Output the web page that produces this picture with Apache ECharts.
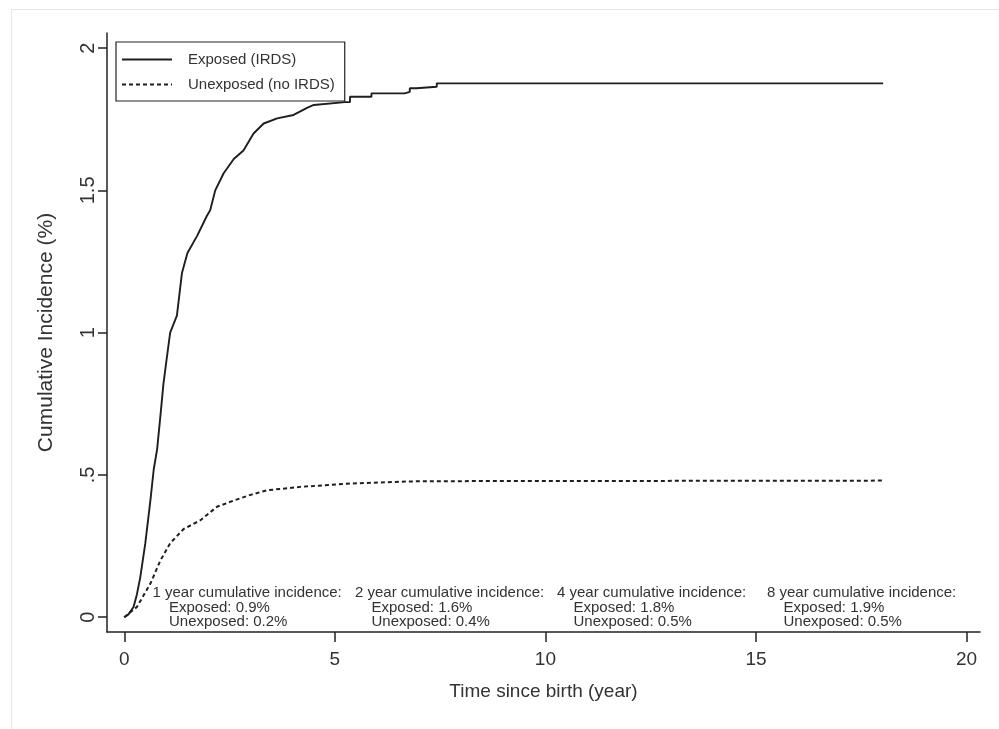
<!DOCTYPE html>
<html>
<head>
<meta charset="utf-8">
<script src="https://cdn.jsdelivr.net/npm/echarts@6/dist/echarts.min.js"></script>
<style>
html,body{margin:0;padding:0;background:#fff;}
#chart{width:999px;height:729px;}
</style>
</head>
<body>
<div id="chart"></div>
<script>
// ---- data ----
var seriesNames = ['Exposed (IRDS)', 'Unexposed (no IRDS)'];
var exposedTime = [0,0.1,0.22,0.3,0.38,0.5,0.62,0.7,0.78,0.86,0.93,1.0,1.09,1.25,1.37,1.5,1.73,1.96,2.04,2.16,2.36,2.6,2.83,3.07,3.31,3.63,4.02,4.34,4.5,5.24,5.36,5.36,5.87,5.87,6.66,6.66,6.78,6.78,6.94,6.94,7.42,7.42,18.02];
var exposedValue = [0,0.01,0.036,0.08,0.14,0.26,0.41,0.52,0.59,0.71,0.82,0.9,1.0,1.06,1.21,1.28,1.34,1.41,1.43,1.5,1.56,1.61,1.64,1.7,1.735,1.753,1.765,1.79,1.80,1.81,1.81,1.829,1.829,1.841,1.841,1.846,1.846,1.859,1.859,1.864,1.864,1.876,1.876];
var unexposedTime = [0,0.3,0.62,0.86,1.09,1.41,1.8,2.2,2.6,3.0,3.39,4.18,5.37,7.0,18.02];
var unexposedValue = [0,0.036,0.118,0.2,0.26,0.31,0.34,0.388,0.41,0.43,0.446,0.458,0.47,0.478,0.48];
var xTickValues = [0,5,10,15,20];
var xTickLabels = ['0','5','10','15','20'];
var yTickValues = [0,0.5,1,1.5,2];
var yTickLabels = ['0','.5','1','1.5','2'];
var annotationTitles = ['1 year cumulative incidence:', '2 year cumulative incidence:', '4 year cumulative incidence:', '8 year cumulative incidence:'];
var annotationExposed = ['Exposed: 0.9%', 'Exposed: 1.6%', 'Exposed: 1.8%', 'Exposed: 1.9%'];
var annotationUnexposed = ['Unexposed: 0.2%', 'Unexposed: 0.4%', 'Unexposed: 0.5%', 'Unexposed: 0.5%'];

function zip(a, b) { return a.map(function (v, i) { return [v, b[i]]; }); }

var FONT = '"Liberation Sans", Arial, sans-serif';
var chart = echarts.init(document.getElementById('chart'), null, {renderer: 'canvas'});

// annotation block anchors (pixels)
var blockLeft = [152.5, 355, 557, 767];
var indent = 16.5;
var rowY = [593, 607.5, 622];
var graphics = [{
  type: 'rect', left: 9, top: 7, z: -10, silent: true,
  shape: {width: 1100, height: 900},
  style: {fill: 'none', stroke: '#e6e6e6', lineWidth: 1}
}];
for (var i = 0; i < annotationTitles.length; i++) {
  var lines = [annotationTitles[i], annotationExposed[i], annotationUnexposed[i]];
  for (var r = 0; r < 3; r++) {
    graphics.push({
      type: 'text', z: 50,
      x: blockLeft[i] + (r === 0 ? 0 : indent), y: rowY[r],
      style: {text: lines[r], fill: '#333', font: '15px ' + FONT, textAlign: 'left', textVerticalAlign: 'middle'}
    });
  }
}

var option = {
  backgroundColor: '#fff',
  animation: false,
  grid: {left: 107, right: 19, top: 33, bottom: 97},
  legend: {
    orient: 'vertical', left: 116, top: 42,
    backgroundColor: '#fff', borderColor: '#222', borderWidth: 1.2, borderRadius: 0,
    padding: [10, 10, 9, 5], itemGap: 10, itemWidth: 50, itemHeight: 18,
    itemStyle: {opacity: 0},
    textStyle: {fontSize: 15, color: '#333', fontFamily: FONT, padding: [0, 0, 0, 11]},
    data: seriesNames
  },
  xAxis: {
    type: 'value', min: -0.41, max: 20.32,
    name: 'Time since birth (year)', nameLocation: 'middle', nameGap: 50,
    nameTextStyle: {fontSize: 19, color: '#333', fontFamily: FONT},
    axisLine: {show: true, onZero: false, lineStyle: {color: '#222', width: 1.5}},
    axisTick: {show: true, length: 10, customValues: xTickValues, lineStyle: {color: '#222', width: 1.5}},
    axisLabel: {customValues: xTickValues, margin: 18, fontSize: 19, color: '#333', fontFamily: FONT,
      formatter: function (v) { var k = xTickValues.indexOf(v); return k >= 0 ? xTickLabels[k] : ''; }},
    splitLine: {show: false}
  },
  yAxis: {
    type: 'value', min: -0.052, max: 2.053,
    name: 'Cumulative Incidence (%)', nameLocation: 'middle', nameGap: 50,
    nameTextStyle: {fontSize: 21, color: '#333', fontFamily: FONT},
    axisLine: {show: true, onZero: false, lineStyle: {color: '#222', width: 1.5}},
    axisTick: {show: true, length: 9, customValues: yTickValues, lineStyle: {color: '#222', width: 1.5}},
    axisLabel: {customValues: yTickValues, rotate: 90, margin: 9, fontSize: 20, color: '#333', fontFamily: FONT,
      formatter: function (v) { for (var k = 0; k < yTickValues.length; k++) { if (Math.abs(yTickValues[k] - v) < 1e-9) return yTickLabels[k]; } return ''; }},
    splitLine: {show: false}
  },
  series: [{
    name: seriesNames[0], type: 'line', data: zip(exposedTime, exposedValue),
    symbol: 'none', showSymbol: false,
    lineStyle: {color: '#1e1e1e', width: 1.9, type: 'solid'},
    itemStyle: {color: '#1e1e1e'}
  }, {
    name: seriesNames[1], type: 'line', data: zip(unexposedTime, unexposedValue),
    symbol: 'none', showSymbol: false,
    lineStyle: {color: '#1e1e1e', width: 2, type: [4, 3]},
    itemStyle: {color: '#1e1e1e'}
  }],
  graphic: graphics
};
chart.setOption(option);
</script>
</body>
</html>
